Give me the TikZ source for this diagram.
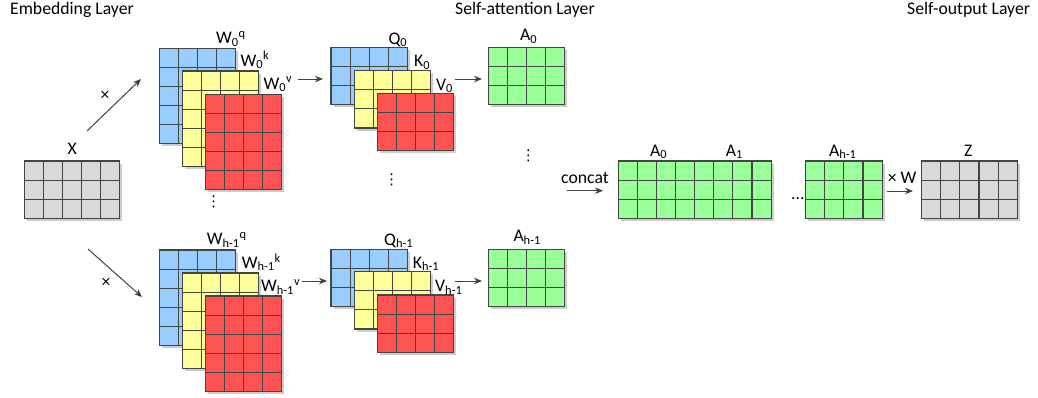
\documentclass[tikz,border=0pt]{standalone}
\usepackage{fontspec}
\setmainfont{Carlito}
\newfontfamily\symfont{DejaVu Sans}
\usetikzlibrary{arrows.meta}
\definecolor{cblue}{HTML}{99CCFF}
\definecolor{cyellow}{HTML}{FFFF99}
\definecolor{cred}{HTML}{FF5252}
\definecolor{cgreen}{HTML}{99FF99}
\definecolor{cgray}{HTML}{D9D9D9}
\definecolor{gridc}{HTML}{454545}
\definecolor{arrc}{HTML}{404040}
\newcommand\cw{19.1}
% #1 name, #2 x, #3 y (top-left, pixels), #4 cols, #5 rows, #6 colour
\newcommand\mygrid[6]{%
  \fill[matshadow] ({#2+2.5},{#3+2.5}) rectangle ++({#4*\cw},{#5*\cw});
  \node[matbox, fill=#6, minimum width={#4*\cw pt}, minimum height={#5*\cw pt}, anchor=north west] (#1) at (#2,#3) {};
  \pgfmathtruncatemacro\myc{#4-1}%
  \pgfmathtruncatemacro\myr{#5-1}%
  \foreach \i in {1,...,\myc} {\draw[gridline] ({#2+\i*\cw},#3) -- ++(0,{#5*\cw});}
  \foreach \j in {1,...,\myr} {\draw[gridline] (#2,{#3+\j*\cw}) -- ++({#4*\cw},0);}
}
\begin{document}
\begin{tikzpicture}[x=1pt,y=-1pt,
  font=\fontsize{17.7}{20}\selectfont,
  matbox/.style={draw=gridc, line width=1.15pt, inner sep=0pt, outer sep=0pt},
  gridline/.style={gridc, line width=1.15pt},
  matshadow/.style={fill=black!20},
  lbl/.style={anchor=base west, inner sep=0pt, text=black},
  title/.style={anchor=base west, inner sep=0pt, text=black},
  dotsn/.style={inner sep=0pt, text=black},
  vdotsn/.style={inner sep=0pt, text=black, font=\symfont\fontsize{15}{15}\selectfont},
  arr/.style={draw=arrc, line width=1pt, -{Stealth[length=8pt,width=6.5pt]}},
]
\useasboundingbox (0,0) rectangle (1038,397);

% titles
\node[title] (t1) at (10,14) {Embedding Layer};
\node[title] (t2) at (455,14) {Self-attention Layer};
\node[title] (t3) at (907,14) {Self-output Layer};

% input
\mygrid{X}{24.3}{161}{5}{3}{cgray}
\node[lbl] (lX) at (67.5,154) {X};

% weights top
\mygrid{Wq0}{159.3}{48.3}{4}{5}{cblue}
\mygrid{Wk0}{182.3}{71}{4}{5}{cyellow}
\mygrid{Wv0}{205.3}{94.3}{4}{5}{cred}
\node[lbl] (lWq0) at (216,43.5) {W\textsubscript{0}\textsuperscript{q}};
\node[lbl] (lWk0) at (240.5,66) {W\textsubscript{0}\textsuperscript{k}};
\node[lbl] (lWv0) at (263.3,89) {W\textsubscript{0}\textsuperscript{v}};
\node[vdotsn] (d1) at (213.5,202) {⋮};

% weights bottom
\mygrid{Wqh}{159.3}{250}{4}{5}{cblue}
\mygrid{Wkh}{182.3}{273}{4}{5}{cyellow}
\mygrid{Wvh}{205.3}{296}{4}{5}{cred}
\node[lbl] (lWqh) at (206.7,244.5) {W\textsubscript{h-1}\textsuperscript{q}};
\node[lbl] (lWkh) at (241.7,268.3) {W\textsubscript{h-1}\textsuperscript{k}};
\node[lbl] (lWvh) at (261,291.7) {W\textsubscript{h-1}\textsuperscript{v}};

% arrows from X
\coordinate (a1s) at (87,131);
\coordinate (a1e) at (141,79);
\coordinate (a2s) at (88,249);
\coordinate (a2e) at (142,297);
\draw[arr] (a1s) -- (a1e);
\draw[arr] (a2s) -- (a2e);
\node[dotsn] (x1) at (105,96) {×};
\node[dotsn] (x2) at (106,283) {×};

% Q K V top
\mygrid{Q0}{331}{47.3}{4}{3}{cblue}
\mygrid{K0}{354.3}{70.7}{4}{3}{cyellow}
\mygrid{V0}{377.3}{93.3}{4}{3}{cred}
\node[lbl] (lQ0) at (388.3,44) {Q\textsubscript{0}};
\node[lbl] (lK0) at (414,66.7) {K\textsubscript{0}};
\node[lbl] (lV0) at (436,90) {V\textsubscript{0}};
\node[vdotsn] (d2) at (391.7,179.5) {⋮};

% Q K V bottom
\mygrid{Qh}{331}{249.3}{4}{3}{cblue}
\mygrid{Kh}{354.3}{271.7}{4}{3}{cyellow}
\mygrid{Vh}{377.3}{295}{4}{3}{cred}
\node[lbl] (lQh) at (384,245) {Q\textsubscript{h-1}};
\node[lbl] (lKh) at (412.7,268.3) {K\textsubscript{h-1}};
\node[lbl] (lVh) at (435,291.7) {V\textsubscript{h-1}};

\coordinate (a3s) at (298,79);  \coordinate (a3e) at (323,79);
\coordinate (a4s) at (302,281); \coordinate (a4e) at (327,281);
\draw[arr] (a3s) -- (a3e);
\draw[arr] (a4s) -- (a4e);

% attention heads
\mygrid{A0}{488.3}{47.3}{4}{3}{cgreen}
\mygrid{Ah}{488.3}{249.3}{4}{3}{cgreen}
\node[lbl] (lA0) at (520,40.7) {A\textsubscript{0}};
\node[lbl] (lAh) at (513.3,241.7) {A\textsubscript{h-1}};
\node[vdotsn] (d3) at (528.3,155.5) {⋮};
\coordinate (a5s) at (455,79);  \coordinate (a5e) at (482,79);
\coordinate (a6s) at (455,281); \coordinate (a6e) at (482,281);
\draw[arr] (a5s) -- (a5e);
\draw[arr] (a6s) -- (a6e);

% concat
\node[lbl] (lcat) at (561,183.3) {concat};
\coordinate (a7s) at (567,190.7); \coordinate (a7e) at (603,190.7);
\draw[arr] (a7s) -- (a7e);
\mygrid{C}{618.3}{161}{8}{3}{cgreen}
\node[lbl] (lC0) at (650,156) {A\textsubscript{0}};
\node[lbl] (lC1) at (725.7,156) {A\textsubscript{1}};
\node[lbl] (ldots) at (791,199.5) {...};
\mygrid{Ch}{805.7}{161}{4}{3}{cgreen}
\node[lbl] (lCh) at (829,156) {A\textsubscript{h-1}};

% output
\node[lbl] (lW) at (887.7,183.3) {× W};
\coordinate (a8s) at (887,191); \coordinate (a8e) at (913,191);
\draw[arr] (a8s) -- (a8e);
\mygrid{Z}{921.7}{161}{5}{3}{cgray}
\node[lbl] (lZ) at (964,156) {Z};
\end{tikzpicture}
\end{document}
